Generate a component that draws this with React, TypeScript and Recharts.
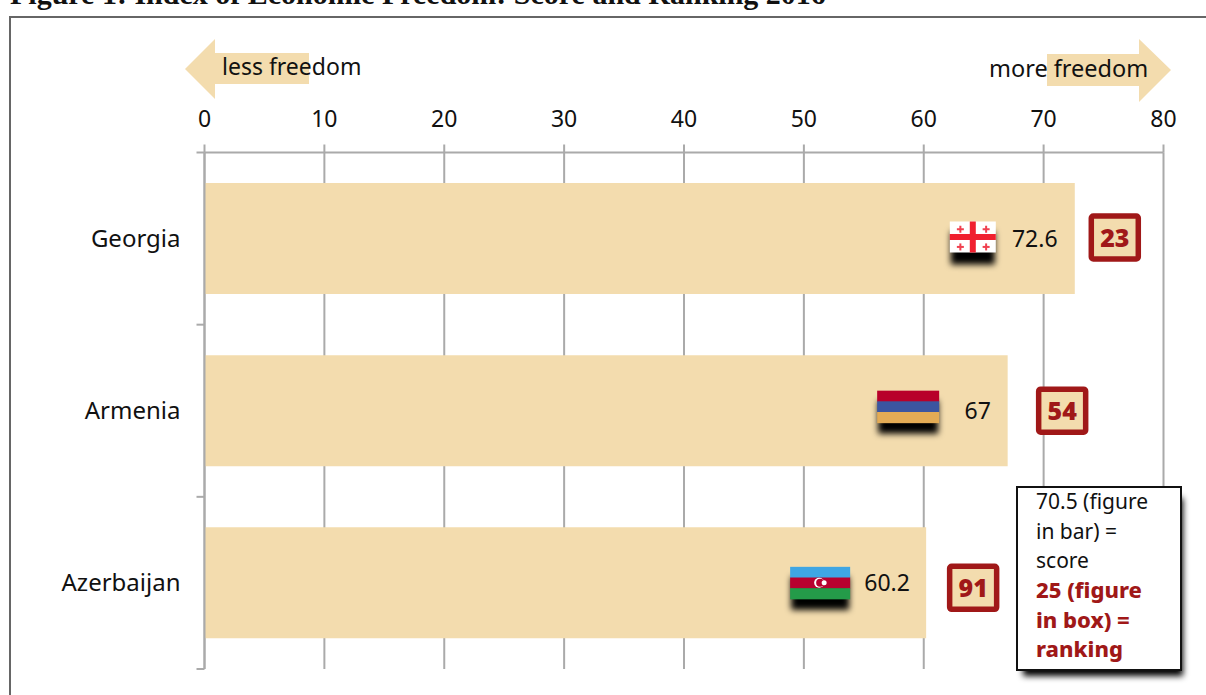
import { BarChart, Bar, XAxis, YAxis, CartesianGrid, LabelList } from "recharts";

const countries = ["Georgia", "Armenia", "Azerbaijan"];
const scores = [72.6, 67, 60.2];
const ranks = [23, 54, 91];
const xTicks = [0, 10, 20, 30, 40, 50, 60, 70, 80];
// the second y axis runs over the row indexes (0..2), these are the row boundaries on it
const bandTicks = [0, 2 / 3, 4 / 3, 2];
const keyScoreLines = ["70.5 (figure", "in bar) =", "score"];
const keyRankLines = ["25 (figure", "in box) =", "ranking"];

const data = countries.map((country, i) => ({ country, score: scores[i] }));

const FONT = "'Noto Sans', sans-serif";
const TAN = "#f3dcae";
const RED = "#a01818";
const GRID = "#aaaaaa";

// offsets from the bar end, they are not the same for each row in the original
const rowLayout = [
  { flagLeft: 125, flagW: 46, flagDy: -1, scoreMid: 40, boxLeft: -14, boxDy: -1 },
  { flagLeft: 130.5, flagW: 62, flagDy: -4, scoreMid: 30, boxLeft: -28.5, boxDy: 0 },
  { flagLeft: 136, flagW: 60, flagDy: 0, scoreMid: 39, boxLeft: -21, boxDy: 5 },
];

function GeorgiaFlag({ w, h }: { w: number; h: number }) {
  const small = [[0.23, 0.25], [0.79, 0.25], [0.23, 0.82], [0.79, 0.82]];
  return (
    <g>
      <rect width={w} height={h} fill="#ffffff" />
      <rect x={w / 2 - 3} width={6} height={h} fill="#f0202f" />
      <rect y={h / 2 - 3} width={w} height={6} fill="#f0202f" />
      {small.map(([cx, cy], i) => (
        <g key={i} fill="#f0404f">
          <rect x={cx * w - 1} y={cy * h - 3.5} width={2} height={7} />
          <rect x={cx * w - 3.5} y={cy * h - 1} width={7} height={2} />
        </g>
      ))}
    </g>
  );
}

function StripeFlag({ w, h, colors }: { w: number; h: number; colors: string[] }) {
  const s = h / 3;
  return (
    <g>
      {colors.map((c, i) => (
        <rect key={c} y={i * s} width={w} height={s + 0.5} fill={c} />
      ))}
    </g>
  );
}

function RowLabel(props: any) {
  const { x, y, width, height, index } = props;
  const layout = rowLayout[index];
  const end = x + width;
  const mid = y + height / 2;
  const flagH = 32;
  const flagX = end - layout.flagLeft;
  const flagY = mid - 16 + layout.flagDy;
  const boxW = 47;
  const boxH = 43;
  const boxX = end - layout.boxLeft + 2.5;
  const boxY = mid - 21.5 + layout.boxDy;
  return (
    <g>
      <rect
        x={flagX + 1}
        y={flagY + 10}
        width={layout.flagW - 2}
        height={flagH + 1}
        fill="#000000"
        filter="url(#flagShadow)"
      />
      <g transform={`translate(${flagX},${flagY})`}>
        {index === 0 && <GeorgiaFlag w={layout.flagW} h={31} />}
        {index === 1 && <StripeFlag w={layout.flagW} h={flagH} colors={["#b8002a", "#3b55a0", "#e3ab55"]} />}
        {index === 2 && (
          <g>
            <StripeFlag w={layout.flagW} h={flagH} colors={["#3fa6e4", "#b8002f", "#249b49"]} />
            <circle cx={layout.flagW / 2 - 1} cy={flagH / 2} r={5} fill="#ffffff" />
            <circle cx={layout.flagW / 2} cy={flagH / 2} r={4} fill="#b8002f" />
            <circle cx={layout.flagW / 2 + 4} cy={flagH / 2} r={2.5} fill="#ffffff" />
          </g>
        )}
      </g>
      <text x={end - layout.scoreMid} y={mid + 8} textAnchor="middle" fontFamily={FONT} fontSize={23} fill="#111111">
        {scores[index]}
      </text>
      <rect x={boxX} y={boxY} width={boxW} height={boxH} rx={2} fill={TAN} stroke={RED} strokeWidth={5.5} />
      <text
        x={boxX + boxW / 2}
        y={boxY + 31}
        textAnchor="middle"
        fontFamily={FONT}
        fontSize={25}
        fontWeight={900}
        fill={RED}
      >
        {ranks[index]}
      </text>
    </g>
  );
}

export default function App() {
  return (
    <div style={{ position: "absolute", left: 0, top: 0, width: 1206, height: 695, background: "#fff", overflow: "hidden" }}>
      <BarChart
        width={1206}
        height={695}
        data={data}
        layout="vertical"
        barCategoryGap={30.5}
        margin={{ top: 122.5, right: 42.5, left: 202.5, bottom: 26 }}
      >
        <defs>
          <filter id="flagShadow" x="-20%" y="-40%" width="140%" height="180%">
            <feGaussianBlur stdDeviation="3" />
          </filter>
          <filter id="keyShadow" x="-10%" y="-10%" width="120%" height="120%">
            <feGaussianBlur stdDeviation="3" />
          </filter>
        </defs>
        <CartesianGrid horizontal={false} vertical stroke={GRID} strokeWidth={2} />
        <XAxis
          type="number"
          orientation="top"
          domain={[0, 80]}
          ticks={xTicks}
          height={30}
          tickSize={8}
          tickMargin={18}
          stroke={GRID}
          strokeWidth={2}
          interval={0}
          tick={{ fill: "#111111", fontSize: 23, fontFamily: FONT }}
        />
        <YAxis
          yAxisId="bands"
          type="number"
          ticks={bandTicks}
          interval={0}
          width={1}
          tickSize={8}
          tickFormatter={() => ""}
          stroke={GRID}
          strokeWidth={2}
        />
        <YAxis
          yAxisId="names"
          type="category"
          dataKey="country"
          width={1}
          tickSize={0}
          tickMargin={23}
          axisLine={false}
          tickLine={false}
          tick={{ fill: "#111111", fontSize: 24, fontFamily: FONT }}
        />
        <Bar yAxisId="names" dataKey="score" fill={TAN} isAnimationActive={false}>
          <LabelList dataKey="score" content={RowLabel} />
        </Bar>

        <path d="M10,695 V17 H1206" fill="none" stroke="#666666" strokeWidth={2} />
        <text x={10} y={4} fontFamily="'Liberation Serif', serif" fontWeight={700} fontSize={30} fill="#111111">
          Figure 1: Index of Economic Freedom: Score and Ranking 2016
        </text>

        <path d="M185,69 L215,39 V53 H309 V84 H215 V99 Z" fill={TAN} />
        <text x={222} y={75} fontFamily={FONT} fontSize={23} fill="#111111">less freedom</text>
        <path d="M1171,70 L1139,39 V54 H1047 V86 H1139 V102 Z" fill={TAN} />
        <text x={989} y={77} fontFamily={FONT} fontSize={23.5} fill="#111111">more freedom</text>

        <rect x={1023} y={498} width={160} height={178} fill="#000000" filter="url(#keyShadow)" />
        <rect x={1017} y={487} width={164} height={183} fill="#ffffff" stroke="#111111" strokeWidth={2} />
        {keyScoreLines.map((line, i) => (
          <text key={line} x={1036} y={509 + i * 29.6} fontFamily={FONT} fontSize={21} fill="#111111">{line}</text>
        ))}
        {keyRankLines.map((line, i) => (
          <text key={line} x={1036} y={598 + i * 29.6} fontFamily={FONT} fontSize={22} fontWeight={800} fill={RED}>{line}</text>
        ))}
      </BarChart>
    </div>
  );
}
